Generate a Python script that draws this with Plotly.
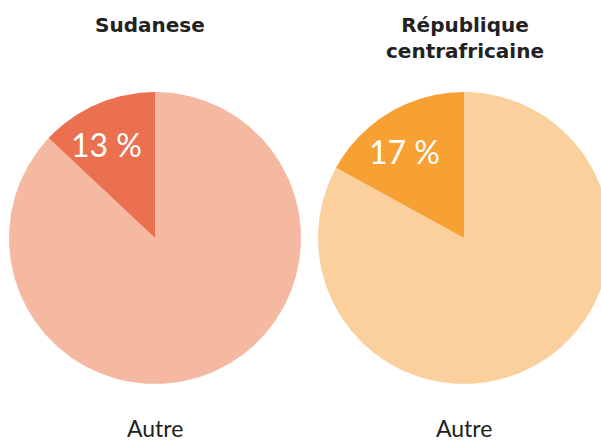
import numpy as np
import plotly.graph_objects as go

# Share of respondents per group; the remainder is "Autre"
groups = ["Sudanese", "République<br>centrafricaine"]
share_pct = [13, 17]
other_label = "Autre"
dark_colors = ["#EB7050", "#F7A134"]
light_colors = ["#F5B9A2", "#FBD09C"]

# Page geometry (pixels)
W, H = 601, 443
R_PX = 146
centers_px = [(155, 238), (464, 238)]
split_px = 309.5
domains_px = [(0, split_px), (split_px, W)]


def wedge(a0_deg, a1_deg, n=400):
    a = np.radians(np.linspace(a0_deg, a1_deg, n))
    x = np.concatenate([[0.0], np.cos(a), [0.0]])
    y = np.concatenate([[0.0], np.sin(a), [0.0]])
    return x, y


fig = go.Figure()
annotations = []
for i, (name, pct) in enumerate(zip(groups, share_pct)):
    xa = "x" if i == 0 else "x2"
    ya = "y" if i == 0 else "y2"
    start = 90.0
    end = start + pct * 3.6
    # remainder slice
    bx, by = wedge(end, start + 360.0)
    fig.add_trace(go.Scatter(x=bx, y=by, fill="toself", mode="lines",
                             line=dict(width=0), fillcolor=light_colors[i],
                             hoverinfo="skip", showlegend=False, xaxis=xa, yaxis=ya))
    # group slice
    sx, sy = wedge(start, end)
    fig.add_trace(go.Scatter(x=sx, y=sy, fill="toself", mode="lines",
                             line=dict(width=0), fillcolor=dark_colors[i],
                             hoverinfo="skip", showlegend=False, xaxis=xa, yaxis=ya))
    mid = np.radians((start + end) / 2 + 4)
    annotations.append(dict(x=0.72 * np.cos(mid), y=0.72 * np.sin(mid), xref=xa, yref=ya,
                            text=f"{pct} %", showarrow=False,
                            font=dict(family="Lato", size=32, color="white")))
    cx, cy = centers_px[i]
    annotations.append(dict(x=0, y=(cy - 428) / R_PX, xref=xa, yref=ya,
                            text=other_label, showarrow=False,
                            font=dict(family="Lato", size=23, color="#222222")))
    annotations.append(dict(x=0, y=(cy - 11) / R_PX, xref=xa, yref=ya,
                            text=f"<b>{name}</b>", showarrow=False, yanchor="top",
                            xshift=-5 if i == 0 else 1,
                            font=dict(family="DejaVu Sans", size=20, color="#222222")))

layout_axes = {}
for i in range(2):
    d0, d1 = domains_px[i]
    cx, cy = centers_px[i]
    sfx = "" if i == 0 else "2"
    layout_axes[f"xaxis{sfx}"] = dict(domain=[d0 / W, d1 / W],
                                      range=[(d0 - cx) / R_PX, (d1 - cx) / R_PX],
                                      visible=False, fixedrange=True,
                                      anchor=f"y{sfx}")
    layout_axes[f"yaxis{sfx}"] = dict(domain=[0, 1],
                                      range=[-(H - cy) / R_PX, cy / R_PX],
                                      visible=False, fixedrange=True,
                                      anchor=f"x{sfx}")

fig.update_layout(width=W, height=H, margin=dict(l=0, r=0, t=0, b=0),
                  paper_bgcolor="white", plot_bgcolor="white",
                  annotations=annotations, **layout_axes)

fig.write_html("out.html", config={"displayModeBar": False})
